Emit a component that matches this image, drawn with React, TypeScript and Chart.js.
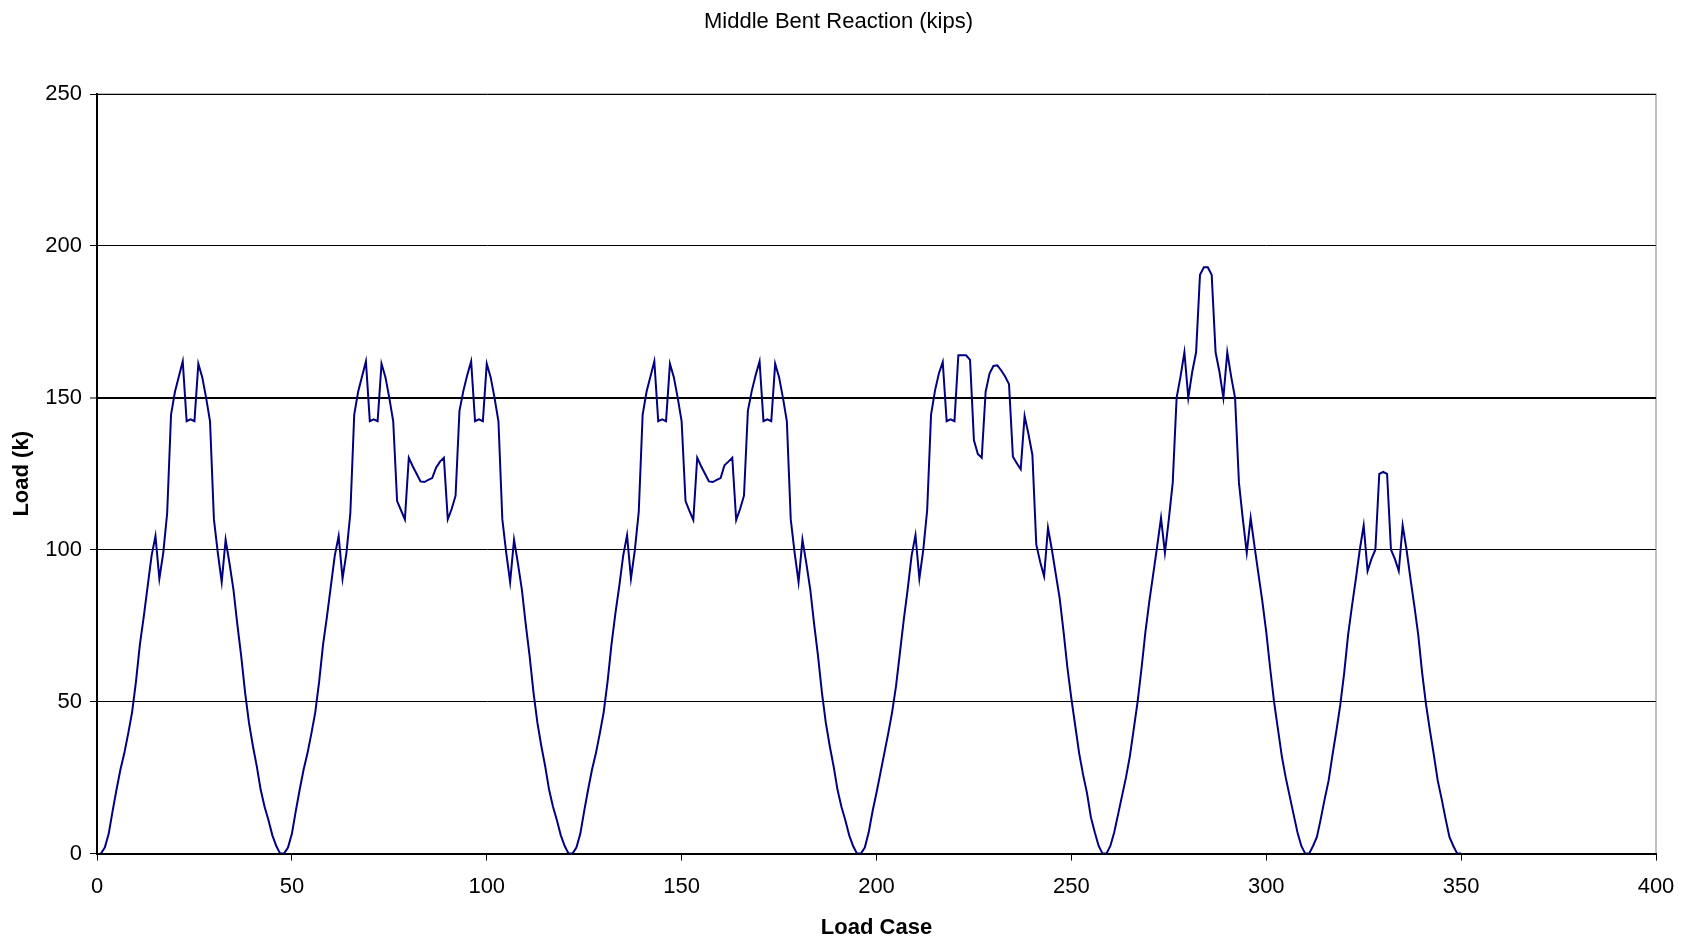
import React, { useEffect, useRef } from "react";
import { Chart, registerables } from "chart.js";

Chart.register(...registerables);

const CHART_TITLE = "Middle Bent Reaction (kips)";
const X_TITLE = "Load Case";
const Y_TITLE = "Load (k)";
const X_TICKS = [0, 50, 100, 150, 200, 250, 300, 350, 400];
const Y_TICKS = [0, 50, 100, 150, 200, 250];
const FONT = "'Liberation Sans', Arial, Helvetica, sans-serif";

// Reaction (kips) per load case, grouped by the stretch of the truck path.
// Cases 1–47
const REACTION_A = [
  0, 2, 6.5, 14, 21, 27.6, 33, 39.5, 46.5, 56.6, 68.8, 78, 88, 98, 104.5,
  90.5, 99, 112, 144.5, 152, 157, 162, 142.3, 142.9, 142.3, 161.2, 156.8, 150,
  142.3, 110, 99, 89.4, 103.3, 95.5, 87, 75.5, 65, 53, 43, 35.4, 28.7, 21,
  15.4, 11, 6, 2.5, 0,
];
// Cases 48–121
const REACTION_B = [
  0, 2, 6.5, 14, 21, 27.6, 33, 39.5, 46.5, 56.6, 68.8, 78, 88, 98, 104.5,
  90.5, 99, 112, 144.5, 152, 157, 162,
  142.3, 142.9, 142.3, 161.2, 156.8, 150, 142.3, 116, 113, 110, 130.3, 127.5,
  125, 122.5, 122.3, 123, 123.6, 127, 129, 130.3, 110, 113.4, 117.8, 145.7,
  152.3, 157.5, 162,
  142.3, 142.9, 142.3, 161.2, 156.8, 150, 142.3, 110, 99, 89.4, 103.3, 95.5,
  87, 75.5, 65, 53, 43, 35.4, 28.7, 21, 15.4, 11, 6, 2.5, 0,
];
// Cases 122–195
const REACTION_C = [
  0, 2, 6.5, 14, 21, 27.6, 33, 39.5, 46.5, 56.6, 68.8, 79, 88, 98, 104.8,
  90.5, 100, 112.5, 144.5, 152, 157, 162,
  142.3, 142.9, 142.3, 161.2, 156.8, 150, 142.3, 116, 112.8, 109.8, 130.3,
  127.5, 125, 122.5, 122.3, 123, 123.6, 127.8, 129, 130.3, 109.8, 113.4, 117.8,
  145.7, 152.3, 157.5, 162,
  142.3, 142.9, 142.3, 161.2, 156.8, 150, 142.3, 110, 99, 89.4, 103.3, 95.5,
  87, 75.5, 65, 53, 43, 35.4, 28.7, 21, 15.4, 11, 6, 2.5, 0,
];
// Cases 196–258
const REACTION_D = [
  0, 2, 7, 14, 20, 26.5, 33, 39.5, 46.5, 55, 66, 77, 87, 98, 104.8, 90.5, 100,
  113, 144.5, 152.3, 158, 161.8,
  142.3, 142.9, 142.3, 164, 164, 164, 162.5, 136, 131.5, 130.3, 152, 158,
  160.5, 160.7, 159, 157, 154.5, 130.6, 128.5, 126.5, 144, 138, 131.2, 101.7,
  96, 91.3, 107.2, 100, 92, 84, 73, 61, 51, 42, 33, 26, 20, 12, 7, 2.5, 0,
];
// Cases 259–309
const REACTION_E = [
  0, 2.5, 7, 13, 19, 25, 32, 41, 50, 61, 73, 83, 92, 101, 110.5, 99, 110, 122,
  150, 157, 165, 150, 158.5, 165, 190.5, 193, 193, 190.5, 165, 158.5, 150, 165,
  157, 150, 122, 110, 99, 110.5, 101, 92, 83, 73, 61, 50, 41, 32, 25, 19, 13,
  7, 2.5,
];
// Cases 310–350
const REACTION_F = [
  0, 0, 2.5, 5.5, 11.5, 18, 24, 32.5, 40.5, 49, 59.5, 72, 81.5, 90.5, 100, 108,
  93, 97, 100, 125, 125.6, 125, 100, 97, 93, 108, 100, 90.5, 81.5, 72, 59.5,
  49, 40.5, 32.5, 24, 18, 11.5, 5.5, 2.5, 0, 0,
];

const REACTION = [
  ...REACTION_A,
  ...REACTION_B,
  ...REACTION_C,
  ...REACTION_D,
  ...REACTION_E,
  ...REACTION_F,
];
const FIRST_CASE = 1;

// Thin grey frame around the plotting area.
const plotFrame = {
  id: "plotFrame",
  beforeDraw(chart: any) {
    const { ctx, chartArea } = chart;
    ctx.save();
    ctx.strokeStyle = "#808080";
    ctx.lineWidth = 1;
    ctx.strokeRect(
      chartArea.left,
      chartArea.top,
      chartArea.right - chartArea.left,
      chartArea.bottom - chartArea.top
    );
    ctx.restore();
  },
};

export default function App() {
  const canvasRef = useRef<HTMLCanvasElement | null>(null);

  useEffect(() => {
    const canvas = canvasRef.current;
    if (!canvas) return;
    const points = REACTION.map((y, i) => ({ x: FIRST_CASE + i, y }));
    const chart = new Chart(canvas, {
      type: "line",
      data: {
        datasets: [
          {
            label: CHART_TITLE,
            data: points,
            borderColor: "#000080",
            borderWidth: 2,
            pointRadius: 0,
            tension: 0,
            fill: false,
          },
        ],
      },
      plugins: [plotFrame],
      options: {
        animation: false,
        responsive: false,
        devicePixelRatio: 1,
        events: [],
        layout: { padding: { left: 0, right: 15, top: 0, bottom: 0 } },
        plugins: {
          legend: { display: false },
          tooltip: { enabled: false },
          title: {
            display: true,
            text: CHART_TITLE,
            color: "#000",
            font: { family: FONT, size: 22, weight: "normal" },
            padding: { top: 8.3, bottom: 59.3 },
          },
        },
        scales: {
          x: {
            type: "linear",
            min: X_TICKS[0],
            max: X_TICKS[X_TICKS.length - 1],
            afterFit: (s: any) => {
              s.height = 88.4;
            },
            afterBuildTicks: (s: any) => {
              s.ticks = X_TICKS.map((v) => ({ value: v }));
            },
            grid: {
              drawOnChartArea: false,
              drawTicks: true,
              tickLength: 7,
              color: "#000",
              tickColor: "#000",
              tickWidth: 1,
            },
            border: { display: true, color: "#000", width: 2 },
            ticks: {
              color: "#000",
              font: { family: FONT, size: 22 },
              padding: 13,
              maxRotation: 0,
              autoSkip: false,
            },
            title: {
              display: true,
              text: X_TITLE,
              color: "#000",
              font: { family: FONT, size: 22, weight: "bold" },
              padding: { top: 0, bottom: 0.8 },
            },
          },
          y: {
            type: "linear",
            min: Y_TICKS[0],
            max: Y_TICKS[Y_TICKS.length - 1],
            afterFit: (s: any) => {
              s.width = 97;
            },
            afterBuildTicks: (s: any) => {
              s.ticks = Y_TICKS.map((v) => ({ value: v }));
            },
            grid: {
              drawOnChartArea: true,
              drawTicks: true,
              tickLength: 7,
              color: "#000",
              tickColor: "#000",
              tickWidth: 1,
              lineWidth: (c: any) => (c.tick && c.tick.value === 150 ? 2 : 1),
            },
            border: { display: true, color: "#000", width: 2 },
            ticks: {
              color: "#000",
              font: { family: FONT, size: 22 },
              padding: 8,
              autoSkip: false,
            },
            title: {
              display: true,
              text: Y_TITLE,
              color: "#000",
              font: { family: FONT, size: 22, weight: "bold" },
              padding: { top: 8.4, bottom: 0 },
            },
          },
          // empty gutter on the right of the plot
          yGutter: {
            type: "linear",
            position: "right",
            display: true,
            afterFit: (s: any) => {
              s.width = 21;
            },
            grid: { display: false, drawTicks: false },
            border: { display: false },
            ticks: { display: false },
          },
        },
      },
    } as any);
    return () => chart.destroy();
  }, []);

  return (
    <div
      style={{
        position: "fixed",
        left: 0,
        top: 0,
        width: 1692,
        height: 942,
        background: "#fff",
      }}
    >
      <canvas
        ref={canvasRef}
        width={1692}
        height={942}
        style={{ display: "block", width: "1692px", height: "942px" }}
      />
    </div>
  );
}
